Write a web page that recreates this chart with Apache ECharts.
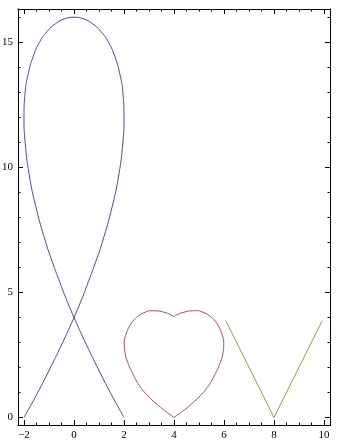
<!DOCTYPE html>
<html>
<head>
<meta charset="utf-8">
<script src="https://cdn.jsdelivr.net/npm/echarts@6/dist/echarts.min.js"></script>
<style>
html,body{margin:0;padding:0;background:#fff;}
#chart{width:340px;height:446px;}
</style>
</head>
<body>
<div id="chart"></div>
<script>
// "L" loop curve
const lX = [-2, -1.46, -0.97, -0.52, -0.11, 0.26, 0.58, 0.87, 1.13, 1.53, 1.80, 1.95, 2, 1.96, 1.83, 1.63, 1.38, 1.07, 0.73, 0.37, 0,
            -0.37, -0.73, -1.07, -1.38, -1.63, -1.83, -1.96, -2, -1.95, -1.80, -1.53, -1.13, -0.87, -0.58, -0.26, 0.11, 0.52, 0.97, 1.46, 2];
const lY = [0, 0.98, 1.94, 2.86, 3.75, 4.61, 5.44, 6.23, 7, 8.44, 9.75, 10.94, 12, 12.94, 13.75, 14.44, 15, 15.44, 15.75, 15.94, 16,
            15.94, 15.75, 15.44, 15, 14.44, 13.75, 12.94, 12, 10.94, 9.75, 8.44, 7, 6.23, 5.44, 4.61, 3.75, 2.86, 1.94, 0.98, 0];
// heart, left and right halves from the top dip to the bottom point
const heartLX = [4.0, 3.85, 3.6, 3.35, 3.1, 2.85, 2.6, 2.4, 2.22, 2.1, 2.01, 2.04, 2.15, 2.35, 2.62, 2.95, 3.3, 3.63, 3.85, 4.0];
const heartLY = [4.03, 4.12, 4.21, 4.26, 4.27, 4.21, 4.08, 3.9, 3.65, 3.38, 3.0, 2.6, 2.2, 1.75, 1.27, 0.87, 0.54, 0.27, 0.11, 0];
const heartRX = [4.0, 4.15, 4.4, 4.65, 4.9, 5.15, 5.4, 5.6, 5.78, 5.9, 5.99, 5.96, 5.85, 5.65, 5.38, 5.05, 4.7, 4.37, 4.15, 4.0];
const heartRY = [4.03, 4.12, 4.21, 4.26, 4.27, 4.21, 4.08, 3.9, 3.65, 3.38, 3.0, 2.6, 2.2, 1.75, 1.27, 0.87, 0.54, 0.27, 0.11, 0];
// "V"
const vX = [6.07, 8, 9.93];
const vY = [3.87, 0, 3.87];
// ticks
const xMajor = [-2, 0, 2, 4, 6, 8, 10];
const xMinor = [-1.5, -1, -0.5, 0.5, 1, 1.5, 2.5, 3, 3.5, 4.5, 5, 5.5, 6.5, 7, 7.5, 8.5, 9, 9.5];
const yMajor = [0, 5, 10, 15];
const yMinor = [1, 2, 3, 4, 6, 7, 8, 9, 11, 12, 13, 14, 16];

const X_MIN = -2.24, X_MAX = 10.24, Y_MIN = -0.3, Y_MAX = 16.33;

function pairs(xs, ys) { return xs.map((x, i) => [x, ys[i]]); }
const fmt = v => (v < 0 ? '\u2212' + Math.abs(v) : String(v));
const lineStyle = { color: '#000', width: 1 };
const font = { fontFamily: 'Liberation Serif', fontSize: 11, color: '#000' };

function xAxisDef(pos, ticks, len, labels) {
  return {
    type: 'value', position: pos, min: X_MIN, max: X_MAX,
    axisLine: { show: true, onZero: false, lineStyle },
    axisTick: { show: true, inside: true, length: len, customValues: ticks, lineStyle },
    axisLabel: labels ? Object.assign({ show: true, margin: 5, customValues: ticks, formatter: fmt }, font) : { show: false },
    splitLine: { show: false }
  };
}
function yAxisDef(pos, ticks, len, labels) {
  return {
    type: 'value', position: pos, min: Y_MIN, max: Y_MAX,
    axisLine: { show: true, onZero: false, lineStyle },
    axisTick: { show: true, inside: true, length: len, customValues: ticks, lineStyle },
    axisLabel: labels ? Object.assign({ show: true, margin: 5, customValues: ticks, formatter: fmt }, font) : { show: false },
    splitLine: { show: false }
  };
}

const chart = echarts.init(document.getElementById('chart'), null, { renderer: 'canvas' });
chart.setOption({
  animation: false,
  backgroundColor: '#fff',
  grid: { left: 18, right: 10, top: 9, bottom: 21, containLabel: false, outerBoundsMode: 'none' },
  xAxis: [
    xAxisDef('bottom', xMajor, 5, true),
    xAxisDef('bottom', xMinor, 2.5, false),
    xAxisDef('top', xMajor, 5, false),
    xAxisDef('top', xMinor, 2.5, false)
  ],
  yAxis: [
    yAxisDef('left', yMajor, 5, true),
    yAxisDef('left', yMinor, 2.5, false),
    yAxisDef('right', yMajor, 5, false),
    yAxisDef('right', yMinor, 2.5, false)
  ],
  series: [
    { type: 'line', name: 'L', data: pairs(lX, lY), smooth: true, showSymbol: false, symbol: 'none',
      lineStyle: { color: '#4a4aa8', width: 1 }, xAxisIndex: 0, yAxisIndex: 0 },
    { type: 'line', name: 'heartL', data: pairs(heartLX, heartLY), smooth: true, symbol: 'none',
      lineStyle: { color: '#a8467a', width: 1 }, xAxisIndex: 0, yAxisIndex: 0 },
    { type: 'line', name: 'heartR', data: pairs(heartRX, heartRY), smooth: true, symbol: 'none',
      lineStyle: { color: '#a8467a', width: 1 }, xAxisIndex: 0, yAxisIndex: 0 },
    { type: 'line', name: 'V', data: pairs(vX, vY), smooth: false, symbol: 'none',
      lineStyle: { color: '#a89448', width: 1 }, xAxisIndex: 0, yAxisIndex: 0 }
  ]
});
</script>
</body>
</html>
